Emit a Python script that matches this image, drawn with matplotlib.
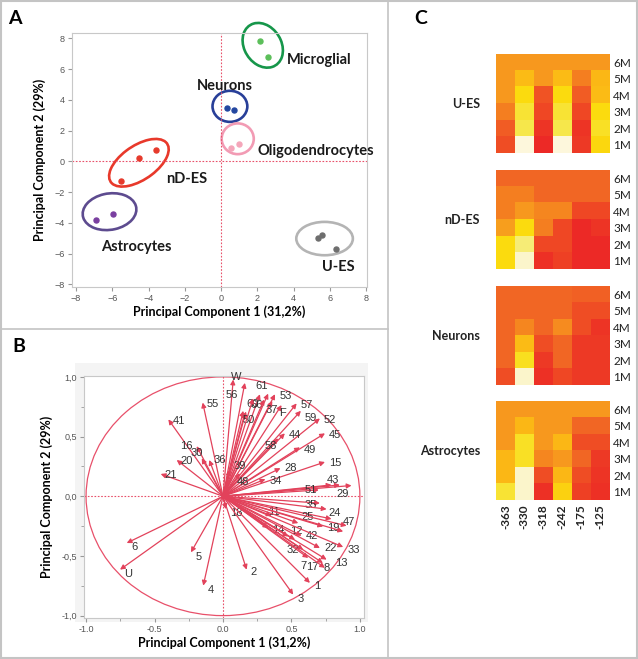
import numpy as np
import matplotlib
matplotlib.use("Agg")
import matplotlib.pyplot as plt
from matplotlib.patches import Ellipse, Circle, Rectangle
from matplotlib.colors import LinearSegmentedColormap
from matplotlib.lines import Line2D

# ==== data: panel A (PCA scores) ====
groups = ["Microglial", "Neurons", "Oligodendrocytes", "nD-ES", "Astrocytes", "U-ES"]
score_x = {
    "Microglial": [2.16, 2.57],
    "Neurons": [0.31, 0.73],
    "Oligodendrocytes": [0.55, 0.97],
    "nD-ES": [-5.54, -4.52, -3.60],
    "Astrocytes": [-6.90, -5.98],
    "U-ES": [5.37, 5.55, 6.32],
}
score_y = {
    "Microglial": [7.82, 6.76],
    "Neurons": [3.44, 3.31],
    "Oligodendrocytes": [0.84, 1.16],
    "nD-ES": [-1.29, 0.19, 0.77],
    "Astrocytes": [-3.78, -3.39],
    "U-ES": [-4.96, -4.81, -5.67],
}
point_colors = ["#5cbf5a", "#2447a0", "#f4a6ba", "#e63a2c", "#7a3fa0", "#6e6e6e"]
ring_colors = ["#16964a", "#283f98", "#f29bb4", "#e8392b", "#5d4b8f", "#b4b4b4"]

# ==== data: panel B (loadings) ====
load_labels = ["W", "56", "61", "", "53", "37", "60", "66", "50", "F", "57", "59", "52",
               "44", "58", "45", "49", "15", "28", "34", "39", "48", "43", "", "29", "51",
               "35", "24", "", "18", "11", "25", "47", "19", "", "14", "12", "42", "",
               "32", "22", "33", "7", "17", "8", "13", "1", "3", "2", "4", "5", "6", "U",
               "55", "41", "16", "30", "20", "36", "21", "", ""]
load_x = [0.075, 0.16, 0.27, 0.33, 0.38, 0.36, 0.148, 0.168, 0.16, 0.428, 0.538, 0.569, 0.708,
          0.452, 0.404, 0.745, 0.562, 0.745, 0.42, 0.31, 0.05, 0.124, 0.793, 0.854, 0.939, 0.70,
          0.708, 0.757, 0.793, 0.022, 0.355, 0.55, 0.903, 0.732, 0.878, 0.331, 0.477, 0.574, 0.526,
          0.586, 0.708, 0.878, 0.623, 0.73, 0.745, 0.757, 0.635, 0.513, 0.173, -0.144, -0.234, -0.703, -0.752,
          -0.148, -0.399, -0.192, -0.155, -0.338, -0.10, -0.455, 0.22, 0.30]
load_y = [0.978, 0.95, 0.855, 0.86, 0.855, 0.80, 0.716, 0.71, 0.70, 0.764, 0.778, 0.716, 0.652,
          0.527, 0.485, 0.527, 0.41, 0.287, 0.235, 0.143, 0.22, 0.193, 0.095, 0.095, 0.09, 0.053,
          -0.058, -0.108, -0.19, -0.108, -0.164, -0.225, -0.247, -0.253, -0.295, -0.267, -0.337, -0.331, -0.364,
          -0.448, -0.434, -0.425, -0.517, -0.56, -0.60, -0.531, -0.726, -0.824, -0.615, -0.749, -0.47, -0.392, -0.615,
          0.785, 0.644, 0.42, 0.318, 0.304, 0.304, 0.187, 0.82, 0.81]
label_dx = [-2, -14, -3, 0, 3, -5, 2, 3, -2, -1.5, 3, 3, 3,
            3, -10, 3, 3, 3, 3, 3, 3, -2.4, -3.5, 0, -10.6, -10,
            -10.8, 1, 0, 3, -2.4, 2.4, -3, 3, 0, 3, 1.5, 3, 0,
            -12, 3, 3, -6, -12, -1, 6, 3, 3, 3, 3, 3, 3, 3,
            3, 3, -12, -8.4, 3, 3, 3, 0, 0]
label_dy = [2, -9, 6, 0, -1, -7, 5, 5, -5, -5.5, -1, -5.5, -1,
            -1, -5.6, -1, -2, -1, 0, -1, 3, -6, 3.6, 0, -6, 0,
            -1, -3, 0, -3, 3, 4.3, 3, -1, 0, -1, 4, 0, 0,
            0, 0, -2, -6, -3, 0, -2.4, -2, -3, -2, -3, -3, -3, -3,
            -1, -1, 0, 4, -1, 0, -1, 0, 0]

# ==== data: panel C (heatmaps, rows 6M..1M, cols -363..-125) ====
positions = ["-363", "-330", "-318", "-242", "-175", "-125"]
months = ["6M", "5M", "4M", "3M", "2M", "1M"]
heat_ues = [[0.55, 0.55, 0.55, 0.55, 0.55, 0.55],
            [0.55, 0.40, 0.55, 0.40, 0.65, 0.42],
            [0.55, 0.25, 0.78, 0.25, 0.75, 0.40],
            [0.65, 0.20, 0.82, 0.20, 0.82, 0.25],
            [0.75, 0.17, 0.90, 0.17, 0.90, 0.22],
            [0.80, 0.00, 0.95, 0.00, 0.88, 0.27]]
heat_ndes = [[0.72, 0.72, 0.72, 0.72, 0.72, 0.72],
             [0.65, 0.65, 0.72, 0.72, 0.72, 0.72],
             [0.65, 0.55, 0.62, 0.62, 0.82, 0.82],
             [0.52, 0.25, 0.65, 0.82, 0.95, 0.90],
             [0.25, 0.12, 0.82, 0.82, 0.95, 0.95],
             [0.25, 0.02, 0.92, 0.85, 0.95, 0.95]]
heat_neurons = [[0.72, 0.72, 0.72, 0.72, 0.74, 0.74],
                [0.72, 0.72, 0.72, 0.72, 0.80, 0.80],
                [0.72, 0.62, 0.72, 0.60, 0.80, 0.90],
                [0.72, 0.40, 0.80, 0.72, 0.88, 0.88],
                [0.72, 0.23, 0.88, 0.72, 0.88, 0.88],
                [0.80, 0.02, 0.92, 0.82, 0.88, 0.88]]
heat_astro = [[0.55, 0.55, 0.55, 0.55, 0.55, 0.55],
              [0.55, 0.42, 0.55, 0.55, 0.72, 0.72],
              [0.55, 0.22, 0.55, 0.42, 0.80, 0.80],
              [0.42, 0.22, 0.62, 0.55, 0.72, 0.88],
              [0.42, 0.02, 0.80, 0.42, 0.80, 0.90],
              [0.20, 0.02, 0.92, 0.30, 0.85, 0.92]]
heat_names = ["U-ES", "nD-ES", "Neurons", "Astrocytes"]

bold_font = "Lato"
tick_font = "Liberation Sans"

fig = plt.figure(figsize=(6.38, 6.59), dpi=100)
W, H = 638.0, 659.0

def fbox(x0, y0, x1, y1):
    # pixel box (top-left origin) -> figure fraction rect
    return [x0 / W, 1 - y1 / H, (x1 - x0) / W, (y1 - y0) / H]

# panel frames
for seg in [((388, 388), (0, 659)), ((0, 388), (329, 329))]:
    fig.add_artist(Line2D([s / W for s in seg[0]], [1 - s / H for s in seg[1]], color="#c4c4c4", lw=1.2))
fig.add_artist(Rectangle((0.001, 0.001), 0.997, 0.997, transform=fig.transFigure,
                         fill=False, ec="#c4c4c4", lw=1.5))
fig.add_artist(Rectangle((75 / W, 1 - 622 / H), 293 / W, 259 / H, transform=fig.transFigure,
                         fc="#f4f4f4", ec="none", zorder=0))

fig.text(8 / W, 1 - 18 / H, "A", fontsize=14, fontweight="bold", family=bold_font, va="center")
fig.text(12 / W, 1 - 346 / H, "B", fontsize=14, fontweight="bold", family=bold_font, va="center")
fig.text(414 / W, 1 - 18 / H, "C", fontsize=14, fontweight="bold", family=bold_font, va="center")

# ==== Panel A ====
axA = fig.add_axes(fbox(72, 33, 367, 287))
axA.set_xlim(-8.22, 8.05)
axA.set_ylim(-8.17, 8.35)
axA.axvline(0, color="#e8506a", lw=0.8, ls=(0, (1.5, 1.5)))
axA.axhline(0, color="#e8506a", lw=0.8, ls=(0, (1.5, 1.5)))
ring_shapes = [((2.3, 7.55), 3.0, 2.1, -70), ((0.49, 3.58), 1.92, 2.02, 0),
               ((0.92, 1.47), 1.77, 2.0, 0), ((-4.53, -0.09), 4.0, 2.1, 42),
               ((-6.15, -3.27), 3.0, 2.35, 15), ((5.71, -5.02), 3.12, 2.17, 0)]
label_pos = [(5.4, 6.6), (0.2, 4.9), (5.22, 0.68), (-1.92, -1.16), (-4.67, -5.57), (6.47, -6.87)]
for g, pc, rc, shp, lp in zip(groups, point_colors, ring_colors, ring_shapes, label_pos):
    axA.plot(score_x[g], score_y[g], "o", ms=3.6, color=pc, mec=pc)
    axA.add_patch(Ellipse(shp[0], shp[1], shp[2], angle=shp[3], fill=False, ec=rc, lw=1.9,
                          clip_on=False))
    axA.text(lp[0], lp[1], g, fontsize=10.5, fontweight="bold", family=bold_font,
             ha="center", va="center", color="#1a1a1a")
axA.set_xticks(np.arange(-8, 9, 2))
axA.set_yticks(np.arange(-8, 9, 2))
axA.set_xlabel("Principal Component 1 (31,2%)", fontsize=9, fontweight="bold",
               family=bold_font, labelpad=2)
axA.set_ylabel("Principal Component 2 (29%)", fontsize=9, fontweight="bold",
               family=bold_font, labelpad=6)
for sp in axA.spines.values():
    sp.set_color("#c8c8c8")
axA.tick_params(length=3, color="#999999", labelsize=6.5, labelcolor="#555555", pad=2)
for t in axA.get_xticklabels() + axA.get_yticklabels():
    t.set_family(tick_font)

# ==== Panel B ====
axB = fig.add_axes(fbox(84, 375.7, 364, 618))
axB.set_xlim(-1.015, 1.03)
axB.set_ylim(-1.02, 1.01)
axB.set_facecolor("white")
axB.axvline(0, color="#e8506a", lw=0.8, ls=(0, (1.5, 1.5)))
axB.axhline(0, color="#e8506a", lw=0.8, ls=(0, (1.5, 1.5)))
axB.add_patch(Circle((0, 0), 1.0, fill=False, ec="#e8506a", lw=0.9))
for lab, x, y, dx, dy in zip(load_labels, load_x, load_y, label_dx, label_dy):
    axB.annotate("", xy=(x, y), xytext=(0, 0),
                 arrowprops=dict(arrowstyle="-|>", color="#e2425b", lw=0.9,
                                 mutation_scale=7, shrinkA=0, shrinkB=0))
    if lab:
        axB.annotate(lab, xy=(x, y), xytext=(dx, dy), textcoords="offset points",
                     fontsize=8, color="#333333", family=tick_font, ha="left", va="center")
axB.set_xticks([-1, -0.5, 0, 0.5, 1])
axB.set_xticklabels(["-1.0", "-0.5", "0.0", "0.5", "1.0"])
axB.set_yticks([-1, -0.5, 0, 0.5, 1])
axB.set_yticklabels(["-1,0", "-0,5", "0,0", "0,5", "1,0"])
axB.set_xticks([-0.75, -0.25, 0.25, 0.75], minor=True)
axB.set_yticks([-0.75, -0.25, 0.25, 0.75], minor=True)
axB.set_xlabel("Principal Component 1 (31,2%)", fontsize=9, fontweight="bold",
               family=bold_font, labelpad=2)
axB.set_ylabel("Principal Component 2 (29%)", fontsize=9, fontweight="bold",
               family=bold_font, labelpad=6)
for sp in axB.spines.values():
    sp.set_color("#c8c8c8")
axB.tick_params(which="both", length=3, color="#999999", labelsize=6.5, labelcolor="#555555", pad=2)
axB.tick_params(which="minor", length=2)
for t in axB.get_xticklabels() + axB.get_yticklabels():
    t.set_family(tick_font)

# ==== Panel C ====
heat_cmap = LinearSegmentedColormap.from_list("ylred", [
    (0.0, "#fdf7dc"), (0.15, "#f5ea5a"), (0.25, "#fbdc0e"), (0.42, "#fbb716"),
    (0.55, "#f7981f"), (0.65, "#f57f20"), (0.72, "#f26724"), (0.82, "#ef4724"),
    (1.0, "#ec1f27")])
block_tops = [54, 170, 286, 401]
for name, data, top in zip(heat_names, [heat_ues, heat_ndes, heat_neurons, heat_astro], block_tops):
    ax = fig.add_axes(fbox(496, top, 609, top + 99))
    ax.imshow(np.array(data), cmap=heat_cmap, vmin=0, vmax=1, aspect="auto",
              interpolation="nearest")
    ax.set_yticks(range(len(months)))
    ax.set_yticklabels(months, fontsize=8.5, family=bold_font, color="#222222")
    ax.yaxis.tick_right()
    ax.tick_params(length=0, pad=3)
    if name == "Astrocytes":
        ax.set_xticks(range(len(positions)))
        ax.set_xticklabels(positions, rotation=90, fontsize=8.5, fontweight="bold",
                           family=bold_font, color="#222222")
    else:
        ax.set_xticks([])
    for sp in ax.spines.values():
        sp.set_visible(False)
    fig.text(480 / W, 1 - (top + 50) / H, name, fontsize=9, fontweight="bold",
             family=bold_font, ha="right", va="center", color="#222222")

fig.savefig("out.png", dpi=100)
